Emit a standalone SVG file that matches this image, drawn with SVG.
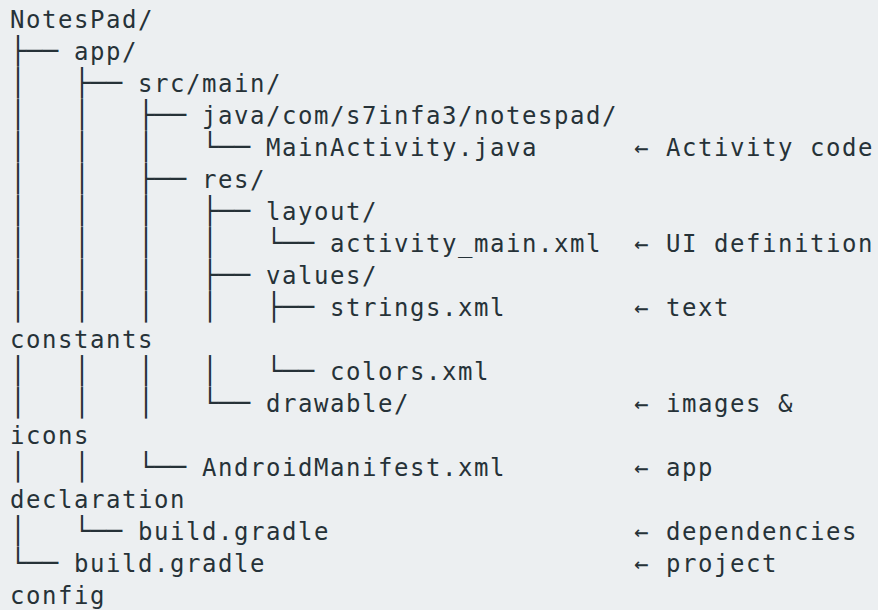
<svg xmlns="http://www.w3.org/2000/svg" width="878" height="610" viewBox="0 0 878 610">
<style>
text{font-family:"DejaVu Sans Mono",monospace;fill:#263238}
.b{font-size:26.58px}
.n{font-size:24px;letter-spacing:1.551px}
</style>
<rect width="878" height="610" fill="#eceff1"/>
<g id="tree">
<g id="l01"><text class="n" x="10" y="27.5">NotesPad/</text></g>
<g id="l02"><text class="b" x="10" y="59.5">├──</text><text class="n" x="74" y="59.5">app/</text></g>
<g id="l03"><text class="b" x="10" y="91.5">│&#160;&#160;&#160;├──</text><text class="n" x="138" y="91.5">src/main/</text></g>
<g id="l04"><text class="b" x="10" y="123.5">│&#160;&#160;&#160;│&#160;&#160;&#160;├──</text><text class="n" x="202" y="123.5">java/com/s7infa3/notespad/</text></g>
<g id="l05"><text class="b" x="10" y="155.5">│&#160;&#160;&#160;│&#160;&#160;&#160;│&#160;&#160;&#160;└──</text><text class="n" x="266" y="155.5">MainActivity.java</text><text class="n" x="634" y="155.5">← Activity code</text></g>
<g id="l06"><text class="b" x="10" y="187.5">│&#160;&#160;&#160;│&#160;&#160;&#160;├──</text><text class="n" x="202" y="187.5">res/</text></g>
<g id="l07"><text class="b" x="10" y="219.5">│&#160;&#160;&#160;│&#160;&#160;&#160;│&#160;&#160;&#160;├──</text><text class="n" x="266" y="219.5">layout/</text></g>
<g id="l08"><text class="b" x="10" y="251.5">│&#160;&#160;&#160;│&#160;&#160;&#160;│&#160;&#160;&#160;│&#160;&#160;&#160;└──</text><text class="n" x="330" y="251.5">activity_main.xml</text><text class="n" x="634" y="251.5">← UI definition</text></g>
<g id="l09"><text class="b" x="10" y="283.5">│&#160;&#160;&#160;│&#160;&#160;&#160;│&#160;&#160;&#160;├──</text><text class="n" x="266" y="283.5">values/</text></g>
<g id="l10"><text class="b" x="10" y="315.5">│&#160;&#160;&#160;│&#160;&#160;&#160;│&#160;&#160;&#160;│&#160;&#160;&#160;├──</text><text class="n" x="330" y="315.5">strings.xml</text><text class="n" x="634" y="315.5">← text</text></g>
<g id="l11"><text class="n" x="10" y="347.5">constants</text></g>
<g id="l12"><text class="b" x="10" y="379.5">│&#160;&#160;&#160;│&#160;&#160;&#160;│&#160;&#160;&#160;│&#160;&#160;&#160;└──</text><text class="n" x="330" y="379.5">colors.xml</text></g>
<g id="l13"><text class="b" x="10" y="411.5">│&#160;&#160;&#160;│&#160;&#160;&#160;│&#160;&#160;&#160;└──</text><text class="n" x="266" y="411.5">drawable/</text><text class="n" x="634" y="411.5">← images &amp;</text></g>
<g id="l14"><text class="n" x="10" y="443.5">icons</text></g>
<g id="l15"><text class="b" x="10" y="475.5">│&#160;&#160;&#160;│&#160;&#160;&#160;└──</text><text class="n" x="202" y="475.5">AndroidManifest.xml</text><text class="n" x="634" y="475.5">← app</text></g>
<g id="l16"><text class="n" x="10" y="507.5">declaration</text></g>
<g id="l17"><text class="b" x="10" y="539.5">│&#160;&#160;&#160;└──</text><text class="n" x="138" y="539.5">build.gradle</text><text class="n" x="634" y="539.5">← dependencies</text></g>
<g id="l18"><text class="b" x="10" y="571.5">└──</text><text class="n" x="74" y="571.5">build.gradle</text><text class="n" x="634" y="571.5">← project</text></g>
<g id="l19"><text class="n" x="10" y="603.5">config</text></g>
</g>
</svg>
